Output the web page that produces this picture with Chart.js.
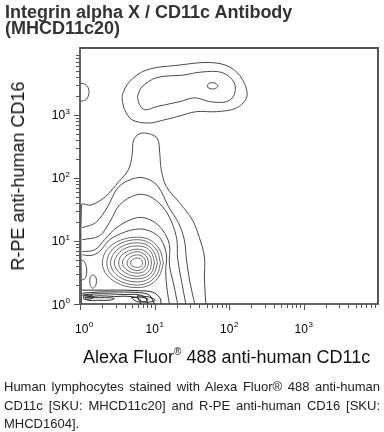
<!DOCTYPE html>
<html>
<head>
<meta charset="utf-8">
<script src="https://cdn.jsdelivr.net/npm/chart.js@4/dist/chart.umd.min.js"></script>
<style>
  html, body { margin:0; padding:0; background:#fff; }
  #wrap { position:relative; width:384px; height:432px; overflow:hidden; font-family:"Liberation Sans", Arial, sans-serif; }
  #c { position:absolute; left:0; top:0; }
  .title { position:absolute; left:5px; top:4px; font-size:18px; line-height:16px; font-weight:bold; color:#333; white-space:nowrap; }
  .xt { position:absolute; left:83px; top:348px; font-size:18px; line-height:18px; color:#111; white-space:nowrap; }
  .xt sup { font-size:10px; vertical-align:8px; line-height:0; }
  .yt { position:absolute; left:18px; top:176px; font-size:18px; line-height:18px; color:#111; white-space:nowrap; transform:translate(-50%,-50%) rotate(-90deg); }
  .cap { position:absolute; left:4px; top:378px; width:376px; font-size:13px; line-height:18.5px; color:#222; text-align:justify; }
</style>
</head>
<body>
<div id="wrap">
  <canvas id="c" width="384" height="432"></canvas>
  <div class="title">Integrin alpha X / CD11c Antibody<br>(MHCD11c20)</div>
  <div class="yt">R-PE anti-human CD16</div>
  <div class="xt">Alexa Fluor<sup>®</sup> 488 anti-human CD11c</div>
  <div class="cap">Human lymphocytes stained with Alexa Fluor® 488 anti-human CD11c [SKU: MHCD11c20] and R-PE anti-human CD16 [SKU: MHCD1604].</div>
</div>
<script>
// Tick decades (exponents of 10) shown on both axes
const tickExponents = [0, 1, 2, 3];
const xMaxExp = 4.0;
const yMaxExp = 4.06;

// Contour lines, as [log10(CD11c), log10(CD16)] pairs
// upper (CD16-high) population
const upperOuter = [[0.57,3.21],[0.60,3.08],[0.70,2.92],[0.93,2.87],[1.13,2.92],[1.30,2.97],[1.56,3.05],[1.83,3.05],[2.10,3.11],[2.24,3.29],[2.18,3.56],[2.01,3.76],[1.74,3.83],[1.34,3.79],[0.89,3.71],[0.66,3.52],[0.57,3.32],[0.57,3.21]];
const upperInner = [[0.77,3.29],[0.80,3.16],[0.87,3.08],[1.03,3.13],[1.34,3.21],[1.54,3.27],[1.74,3.21],[1.97,3.21],[2.07,3.32],[2.07,3.51],[1.91,3.67],[1.64,3.68],[1.38,3.63],[1.03,3.59],[0.83,3.44],[0.77,3.29]];
const upperPeak = [[1.71,3.46],[1.73,3.50],[1.78,3.51],[1.83,3.49],[1.85,3.45],[1.82,3.42],[1.77,3.41],[1.72,3.43],[1.71,3.46]];
const upperEdge = [[0,3.50],[0.06,3.49],[0.11,3.43],[0.12,3.35],[0.09,3.25],[0.03,3.22],[0,3.22]];

// main (CD16-low) population, outer levels
const main1 = [[0.02,0],[0.02,1.57],[0.15,1.57],[0.34,1.70],[0.52,1.94],[0.65,2.13],[0.70,2.37],[0.72,2.60],[0.80,2.70],[0.93,2.70],[1.04,2.62],[1.07,2.40],[1.09,2.13],[1.16,1.86],[1.34,1.60],[1.51,1.33],[1.60,1.06],[1.67,0.75],[1.67,0.38],[1.69,0]];
const main2 = [[0.03,1.21],[0.21,1.29],[0.37,1.54],[0.52,1.86],[0.75,2.00],[0.91,1.98],[1.05,1.86],[1.19,1.54],[1.32,1.29],[1.40,1.02],[1.43,0.70],[1.47,0.38],[1.54,0]];
const main3 = [[0.03,1.02],[0.26,1.08],[0.40,1.30],[0.53,1.57],[0.75,1.73],[0.93,1.71],[1.11,1.54],[1.23,1.30],[1.30,1.02],[1.31,0.73],[1.36,0.38],[1.42,0]];
const main4 = [[0.03,0.83],[0.20,0.86],[0.33,1.02],[0.50,1.22],[0.77,1.37],[0.97,1.32],[1.11,1.17],[1.20,0.94],[1.20,0.62],[1.26,0.30],[1.31,0]];
const main5 = [[0.03,0.78],[0.15,0.77],[0.26,0.83],[0.40,1.02],[0.60,1.14],[0.80,1.19],[0.97,1.14],[1.09,1.02],[1.16,0.78],[1.15,0.51],[1.17,0.22],[1.20,0]];

// main population, inner rings around the peak (wider toward low CD11c)
const ring1 = [[1.12,0.65],[1.07,0.86],[0.95,1.01],[0.77,1.06],[0.54,1.01],[0.36,0.86],[0.30,0.65],[0.36,0.46],[0.54,0.31],[0.77,0.26],[0.95,0.31],[1.07,0.46],[1.12,0.65]];
const ring2 = [[1.08,0.65],[1.04,0.83],[0.93,0.97],[0.77,1.02],[0.56,0.97],[0.41,0.83],[0.36,0.65],[0.41,0.48],[0.56,0.35],[0.77,0.30],[0.93,0.35],[1.04,0.48],[1.08,0.65]];
const ring3 = [[1.04,0.65],[1.00,0.81],[0.91,0.93],[0.77,0.97],[0.59,0.93],[0.46,0.81],[0.41,0.65],[0.46,0.50],[0.59,0.39],[0.77,0.35],[0.91,0.39],[1.00,0.50],[1.04,0.65]];
const ring4 = [[1.00,0.65],[0.97,0.79],[0.89,0.89],[0.77,0.92],[0.62,0.89],[0.51,0.79],[0.46,0.65],[0.51,0.52],[0.62,0.43],[0.77,0.40],[0.89,0.43],[0.97,0.52],[1.00,0.65]];
const ring5 = [[0.96,0.65],[0.94,0.76],[0.87,0.84],[0.77,0.87],[0.65,0.84],[0.55,0.76],[0.52,0.65],[0.55,0.55],[0.65,0.47],[0.77,0.44],[0.87,0.47],[0.94,0.55],[0.96,0.65]];
const ring6 = [[0.92,0.65],[0.90,0.74],[0.85,0.80],[0.77,0.83],[0.67,0.80],[0.60,0.74],[0.57,0.65],[0.60,0.57],[0.67,0.51],[0.77,0.49],[0.85,0.51],[0.90,0.57],[0.92,0.65]];
const ring7 = [[0.88,0.65],[0.87,0.71],[0.83,0.76],[0.77,0.78],[0.70,0.76],[0.65,0.71],[0.63,0.65],[0.65,0.59],[0.70,0.55],[0.77,0.53],[0.83,0.55],[0.87,0.59],[0.88,0.65]];
const ring8 = [[0.84,0.65],[0.83,0.69],[0.81,0.72],[0.77,0.73],[0.73,0.72],[0.69,0.69],[0.68,0.65],[0.69,0.61],[0.73,0.59],[0.77,0.58],[0.81,0.59],[0.83,0.61],[0.84,0.65]];

// small side islands and the dense band at the bottom edge
const islandOval = [[0.13,0.37],[0.14,0.43],[0.17,0.46],[0.21,0.43],[0.22,0.37],[0.21,0.29],[0.17,0.25],[0.14,0.29],[0.13,0.37]];
const islandEdge = [[0,0.70],[0.06,0.67],[0.09,0.54],[0.07,0.41],[0,0.37]];
const band1 = [[0.03,0.22],[0.20,0.22],[0.40,0.22],[0.60,0.22],[0.80,0.21],[0.97,0.19],[1.07,0.10],[1.09,0]];
const band2 = [[0.03,0.17],[0.26,0.19],[0.53,0.19],[0.80,0.18],[0.93,0.14],[1.00,0]];
const band3 = [[0.03,0.14],[0.20,0.16],[0.40,0.16],[0.60,0.15],[0.77,0.15],[0.88,0.10],[0.91,0]];
const band4 = [[0.06,0.11],[0.26,0.13],[0.46,0.12],[0.66,0.12],[0.80,0.08],[0.81,0]];
const band5 = [[0.07,0.10],[0.20,0.10],[0.33,0.10],[0.46,0.09],[0.40,0.06],[0.24,0.06],[0.10,0.06],[0.07,0.10]];
const band6 = [[0.69,0.10],[0.80,0.11],[0.91,0.08],[0.88,0.04],[0.76,0.04],[0.69,0.10]];
const band7 = [[0.05,0.13],[0.13,0.14],[0.19,0.11],[0.13,0.08],[0.05,0.08],[0.05,0.13]];
const band8 = [[0.77,0.13],[0.93,0.11],[1.01,0.06],[0.93,0.03],[0.80,0.05],[0.77,0.13]];

const groups = [
  {lines:[upperOuter, upperInner, upperPeak, upperEdge], color:'#4a4a4a'},
  {lines:[main1, main2, main3, main4, main5], color:'#4a4a4a'},
  {lines:[ring1, ring2, ring3, ring4, ring5, ring6, ring7, ring8], color:'#6a6a6a'},
  {lines:[islandOval, islandEdge], color:'#4a4a4a'},
  {lines:[band1, band2, band3, band4, band5, band6, band7, band8], color:'#262626'}
];

const datasets = [];
groups.forEach(g => g.lines.forEach(line => {
  datasets.push({
    data: line.map(([a, b]) => ({x: Math.pow(10, a), y: Math.pow(10, b)})),
    showLine: true, fill: false, pointRadius: 0, borderColor: g.color,
    borderWidth: 1, tension: 0.35
  });
}));

const FONT = '"Liberation Sans", Arial, sans-serif';

const axisDecor = {
  id: 'axisDecor',
  afterDraw(chart) {
    const {ctx, chartArea: a, scales: {x, y}} = chart;
    ctx.save();
    // frame top & right
    ctx.strokeStyle = '#555'; ctx.lineWidth = 2;
    ctx.beginPath();
    ctx.moveTo(a.left, a.top); ctx.lineTo(a.right, a.top); ctx.lineTo(a.right, a.bottom);
    ctx.stroke();
    // tick marks
    ctx.strokeStyle = '#555'; ctx.lineWidth = 1;
    ctx.beginPath();
    for (let d = 0; d < 4; d++) {
      for (let k = 1; k <= 9; k++) {
        const v = k * Math.pow(10, d);
        const len = k === 1 ? 6 : 4;
        if (v <= x.max) {
          const px = Math.round(x.getPixelForValue(v)) + 0.5;
          ctx.moveTo(px, a.bottom); ctx.lineTo(px, a.bottom + len);
        }
        if (v <= y.max) {
          const py = Math.round(y.getPixelForValue(v)) + 0.5;
          ctx.moveTo(a.left, py); ctx.lineTo(a.left - len, py);
        }
      }
    }
    ctx.stroke();
    // tick labels 10^n
    ctx.fillStyle = '#000';
    ctx.textBaseline = 'alphabetic';
    tickExponents.forEach(e => {
      const ex = String(e);
      ctx.font = '12px ' + FONT; const w10 = ctx.measureText('10').width;
      ctx.font = '8px ' + FONT; const we = ctx.measureText(ex).width;
      // x label
      const px = x.getPixelForValue(Math.pow(10, e));
      const left = Math.max(px - (w10 + we) / 2, 75);
      ctx.textAlign = 'left';
      ctx.font = '12px ' + FONT; ctx.fillText('10', left, 333);
      ctx.font = '8px ' + FONT; ctx.fillText(ex, left + w10 + 0.5, 327);
      // y label
      const py = y.getPixelForValue(Math.pow(10, e));
      const right = 70;
      ctx.font = '8px ' + FONT; ctx.fillText(ex, right - we, py - 1);
      ctx.font = '12px ' + FONT; ctx.fillText('10', right - we - 0.5 - w10, py + 4.5);
    });
    ctx.restore();
  }
};

new Chart(document.getElementById('c'), {
  type: 'scatter',
  data: { datasets },
  options: {
    responsive: false, animation: false, devicePixelRatio: 1,
    layout: { padding: { left: 0, top: 48, right: 6, bottom: 0 } },
    plugins: { legend: { display: false }, tooltip: { enabled: false } },
    scales: {
      x: {
        type: 'logarithmic', position: 'bottom', min: 1, max: Math.pow(10, xMaxExp),
        ticks: { display: false }, grid: { display: false },
        border: { display: true, color: '#666', width: 2 },
        afterFit(s) { s.height = 128; }
      },
      y: {
        type: 'logarithmic', position: 'left', min: 1, max: Math.pow(10, yMaxExp),
        ticks: { display: false }, grid: { display: false },
        border: { display: true, color: '#666', width: 2 },
        afterFit(s) { s.width = 80; }
      }
    }
  },
  plugins: [axisDecor]
});
</script>
</body>
</html>
